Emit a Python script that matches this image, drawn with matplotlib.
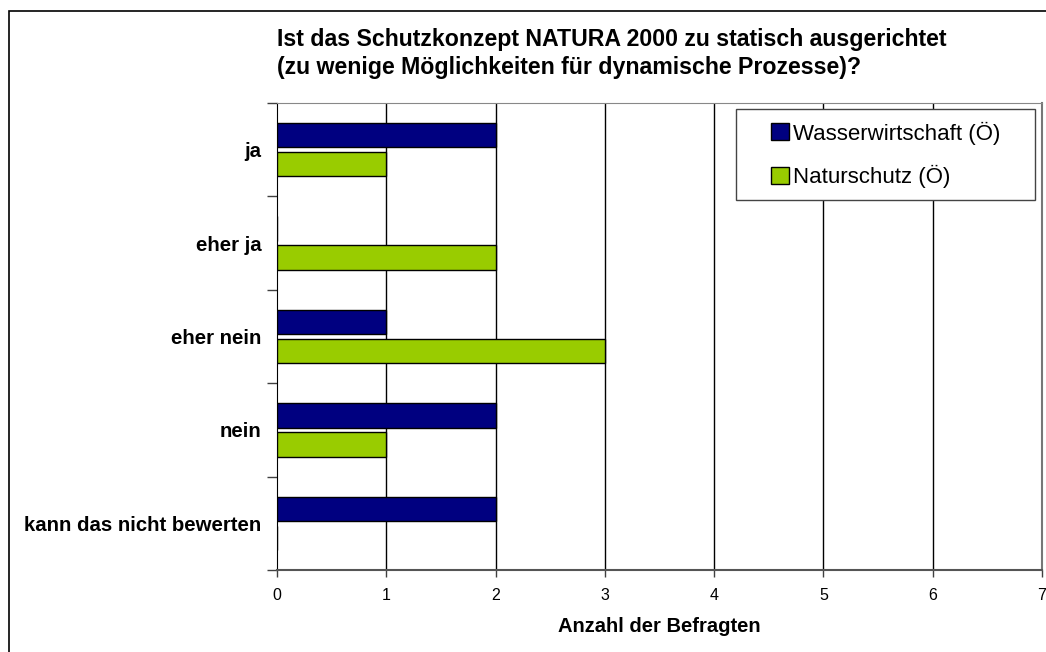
"""
Ist das Schutzkonzept NATURA 2000 zu statisch ausgerichtet? - Balkendiagramm.
"""

import numpy as np
import matplotlib
matplotlib.use("Agg")
import matplotlib.pyplot as plt
from matplotlib.patches import Rectangle

plt.rcParams["font.family"] = ["Liberation Sans", "DejaVu Sans"]

kategorien = ["ja", "eher ja", "eher nein", "nein", "kann das nicht bewerten"]
wasserwirtschaft = [2, 0, 1, 2, 2]
naturschutz = [1, 2, 3, 1, 0]
serien = ["Wasserwirtschaft (Ö)", "Naturschutz (Ö)"]
x_ticks = [0, 1, 2, 3, 4, 5, 6, 7]

titel = ("Ist das Schutzkonzept NATURA 2000 zu statisch ausgerichtet\n"
         "(zu wenige Möglichkeiten für dynamische Prozesse)?")

W, H = 1046, 652
fig = plt.figure(figsize=(W / 100, H / 100), dpi=100)

# Rahmen um das ganze Diagramm (rechts/unten abgeschnitten)
fig.patches.append(Rectangle((9 / W, -0.1), 1.2, 1.1 - 11 / H,
                             transform=fig.transFigure, fill=False,
                             edgecolor="black", linewidth=1.2))

ax = fig.add_axes([277 / W, 1 - 570 / H, (1042 - 277) / W, (570 - 103) / H])

y = np.arange(len(kategorien))
h = 0.26
off = 0.155
ax.barh(y - off, wasserwirtschaft, h, color="#000080", edgecolor="black",
        linewidth=1, label=serien[0], zorder=3)
ax.barh(y + off, naturschutz, h, color="#99CC00", edgecolor="black",
        linewidth=1, label=serien[1], zorder=3)

ax.set_xlim(0, 7)
ax.set_ylim(len(kategorien) - 0.5, -0.5)
ax.set_xticks(x_ticks)
ax.set_xticklabels([str(t) for t in x_ticks], fontsize=11.5)
ax.tick_params(axis="x", length=5, width=1, color="#404040", pad=8)

# Striche zwischen den Kategorien, Beschriftung in der Mitte
ax.set_yticks(np.arange(-0.5, len(kategorien), 1.0))
ax.set_yticklabels([])
ax.tick_params(axis="y", which="major", length=7, width=1, color="#404040")
ax.set_yticks(y, minor=True)
ax.set_yticklabels(kategorien, minor=True, fontsize=14.7, fontweight="bold")
ax.tick_params(axis="y", which="minor", length=0, pad=11)

for xv in x_ticks[1:-1]:
    ax.axvline(xv, color="black", linewidth=1, zorder=1)

ax.spines["left"].set_color("black")
ax.spines["bottom"].set_color("#555555")
ax.spines["bottom"].set_linewidth(1.5)
ax.spines["right"].set_color("#777777")
ax.spines["right"].set_linewidth(1.5)
ax.spines["top"].set_color("#888888")

ax.set_xlabel("Anzahl der Befragten", fontsize=14.5, fontweight="bold", labelpad=10)

fig.text(277 / W, 1 - 28 / H, titel, fontsize=16.7, fontweight="bold",
         ha="left", va="top", linespacing=1.27)

# Legendenrahmen, Inhalt zentriert darin
ax.add_patch(Rectangle((0.6, 0.792), 0.391, 0.195, transform=ax.transAxes,
                       facecolor="white", edgecolor="#444444", linewidth=1,
                       zorder=4))
leg = ax.legend(loc="center", bbox_to_anchor=(0.7955, 0.8895), fontsize=16,
                frameon=False, handlelength=0.8, handleheight=0.8,
                handletextpad=0.2, labelspacing=0.9)
leg.set_zorder(5)

fig.savefig("out.png", dpi=100)
